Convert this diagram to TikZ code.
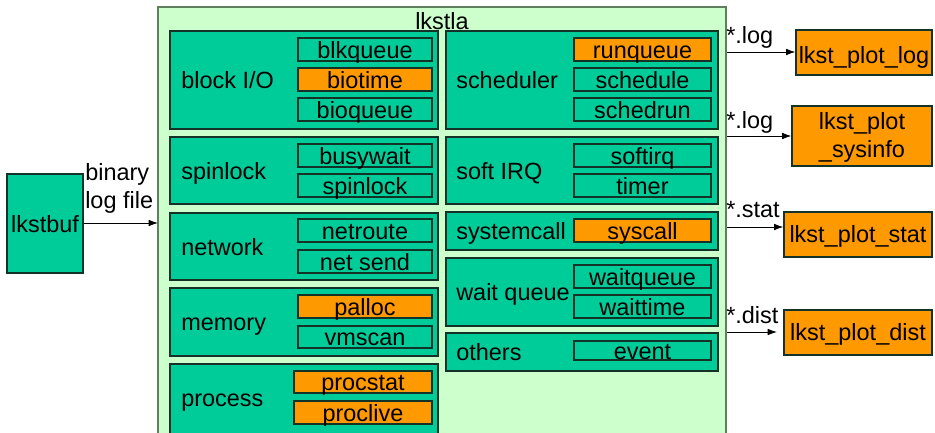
\documentclass[tikz,border=0pt]{standalone}
\usepackage{fontspec}
\setmainfont{Liberation Sans}
\usetikzlibrary{arrows.meta,calc}
\definecolor{outerg}{HTML}{CCFFCC}
\definecolor{outerb}{HTML}{5F7F5F}
\definecolor{grp}{HTML}{00CC99}
\definecolor{org}{HTML}{FF9900}
\definecolor{edge}{HTML}{143328}
\tikzset{
  gbox/.style={draw=edge, line width=1.1pt, fill=grp, inner sep=0pt},
  obox/.style={draw=edge, line width=0.9pt, fill=org, inner sep=0pt},
  tbox/.style={draw=edge, line width=0.9pt, fill=grp, inner sep=0pt},
  txt/.style={inner sep=0pt, anchor=base, font=\fontsize{17.6}{20}\selectfont},
  ltxt/.style={inner sep=0pt, anchor=base west, font=\fontsize{17.6}{20}\selectfont},
  arr/.style={-{Latex[length=7pt,width=5pt]}, line width=0.7pt},
}
% name, style, x1, y1, x2, y2
\newcommand\bx[6]{\node[#2, minimum width={(#5-#3)*0.75pt}, minimum height={(#6-#4)*0.75pt}] (#1) at ({(#3+#5)/2},{(#4+#6)/2}) {};}
% name, style, x1,y1,x2,y2,text  (box with centred text)
\newcommand\tb[7]{\bx{#1}{#2}{#3}{#4}{#5}{#6}\node[txt] (#1-t) at ($(#1.center)+(0,8.5)$) {#7};}
% group: name, x1,y1,x2,y2,label, labelx
\newcommand\grp[7]{\bx{#1}{gbox}{#2}{#3}{#4}{#5}\node[ltxt] (#1-l) at ({#7},{(#3+#5)/2+8.5}) {#6};}
\begin{document}
\begin{tikzpicture}[x=0.75pt,y=-0.75pt]
\clip (0,0) rectangle (935,432);
\fill[white] (0,0) rectangle (935,432);
% outer lkstla
\node[draw=outerb, line width=1.5pt, fill=outerg, minimum width={568*0.75pt}, minimum height={460*0.75pt}, inner sep=0pt] (lkstla) at (442,237) {};
\node[txt] (lkstla-t) at (442,29) {lkstla};
% left column groups
\grp{blk}{170}{31}{438}{129}{block I/O}{181}
\tb{blkqueue}{tbox}{298}{38}{432}{61}{blkqueue}
\tb{biotime}{obox}{298}{68}{432}{91}{biotime}
\tb{bioqueue}{tbox}{298}{98}{432}{121}{bioqueue}
\grp{spin}{170}{137}{438}{204}{spinlock}{181}
\tb{busywait}{tbox}{298}{144}{432}{167}{busywait}
\tb{spinl}{tbox}{298}{174}{432}{197}{spinlock}
\grp{net}{170}{213}{438}{280}{network}{181}
\tb{netroute}{tbox}{298}{219}{432}{242}{netroute}
\tb{netsend}{tbox}{298}{250}{432}{273}{net send}
\grp{mem}{170}{288}{438}{356}{memory}{181}
\tb{palloc}{obox}{298}{295}{432}{318}{palloc}
\tb{vmscan}{tbox}{298}{326}{432}{348}{vmscan}
\bx{proc}{gbox}{170}{364}{438}{445}
\node[ltxt] (proc-l) at (181,406.5) {process};
\tb{procstat}{obox}{294}{371}{432}{393}{procstat}
\tb{proclive}{obox}{294}{401}{432}{424}{proclive}
% right column groups
\grp{sched}{446}{31}{718}{129}{scheduler}{456}
\tb{runqueue}{obox}{574}{38}{711}{61}{runqueue}
\tb{schedule}{tbox}{574}{68}{711}{91}{schedule}
\tb{schedrun}{tbox}{574}{98}{711}{121}{schedrun}
\grp{sirq}{446}{137}{718}{204}{soft IRQ}{456}
\tb{softirq}{tbox}{574}{144}{711}{167}{softirq}
\tb{timer}{tbox}{574}{174}{711}{197}{timer}
\grp{sysc}{446}{212}{718}{250}{systemcall}{456}
\tb{syscall}{obox}{574}{219}{711}{242}{syscall}
\grp{waitq}{446}{258}{718}{326}{wait queue}{456}
\tb{waitqueue}{tbox}{574}{265}{711}{288}{waitqueue}
\tb{waittime}{tbox}{574}{295}{711}{318}{waittime}
\grp{oth}{446}{333}{718}{371}{others}{456}
\tb{event}{tbox}{574}{341}{711}{360}{event}
% lkstbuf
\bx{lkstbuf}{gbox}{7}{174}{83}{273}
\node[txt] (lkstbuf-t) at (45,232) {lkstbuf};
\node[ltxt] (bin1) at (85,180) {binary};
\node[ltxt] (bin2) at (85,208) {log file};
\coordinate (inA) at (158,223);
\draw[arr] (lkstbuf.east |- inA) -- (inA);
% outputs
\bx{plog}{obox}{796}{30}{932}{75}
\node[txt] (plog-t) at (864,63) {lkst\_plot\_log};
\bx{psys}{obox}{792}{106}{932}{166}
\node[txt] (psys-t1) at (862,129) {lkst\_plot};
\node[txt] (psys-t2) at (862,157) {\_sysinfo};
\bx{pstat}{obox}{784}{212}{932}{257}
\node[txt] (pstat-t) at (858,242) {lkst\_plot\_stat};
\bx{pdist}{obox}{784}{310}{932}{355}
\node[txt] (pdist-t) at (858,340) {lkst\_plot\_dist};
\coordinate (o1) at (727,52);
\coordinate (o2) at (727,136);
\coordinate (o3) at (727,227);
\coordinate (o4) at (727,332);
\coordinate (e4) at (777,332);
\draw[arr] (o1) -- (plog.west |- o1);
\draw[arr] (o2) -- (psys.west |- o2);
\draw[arr] (o3) -- (pstat.west |- o3);
\draw[arr] (o4) -- (e4);
\node[ltxt] (l1) at (726,43) {*.log};
\node[ltxt] (l2) at (726,128) {*.log};
\node[ltxt] (l3) at (726,217) {*.stat};
\node[ltxt] (l4) at (726,323) {*.dist};
\end{tikzpicture}
\end{document}
